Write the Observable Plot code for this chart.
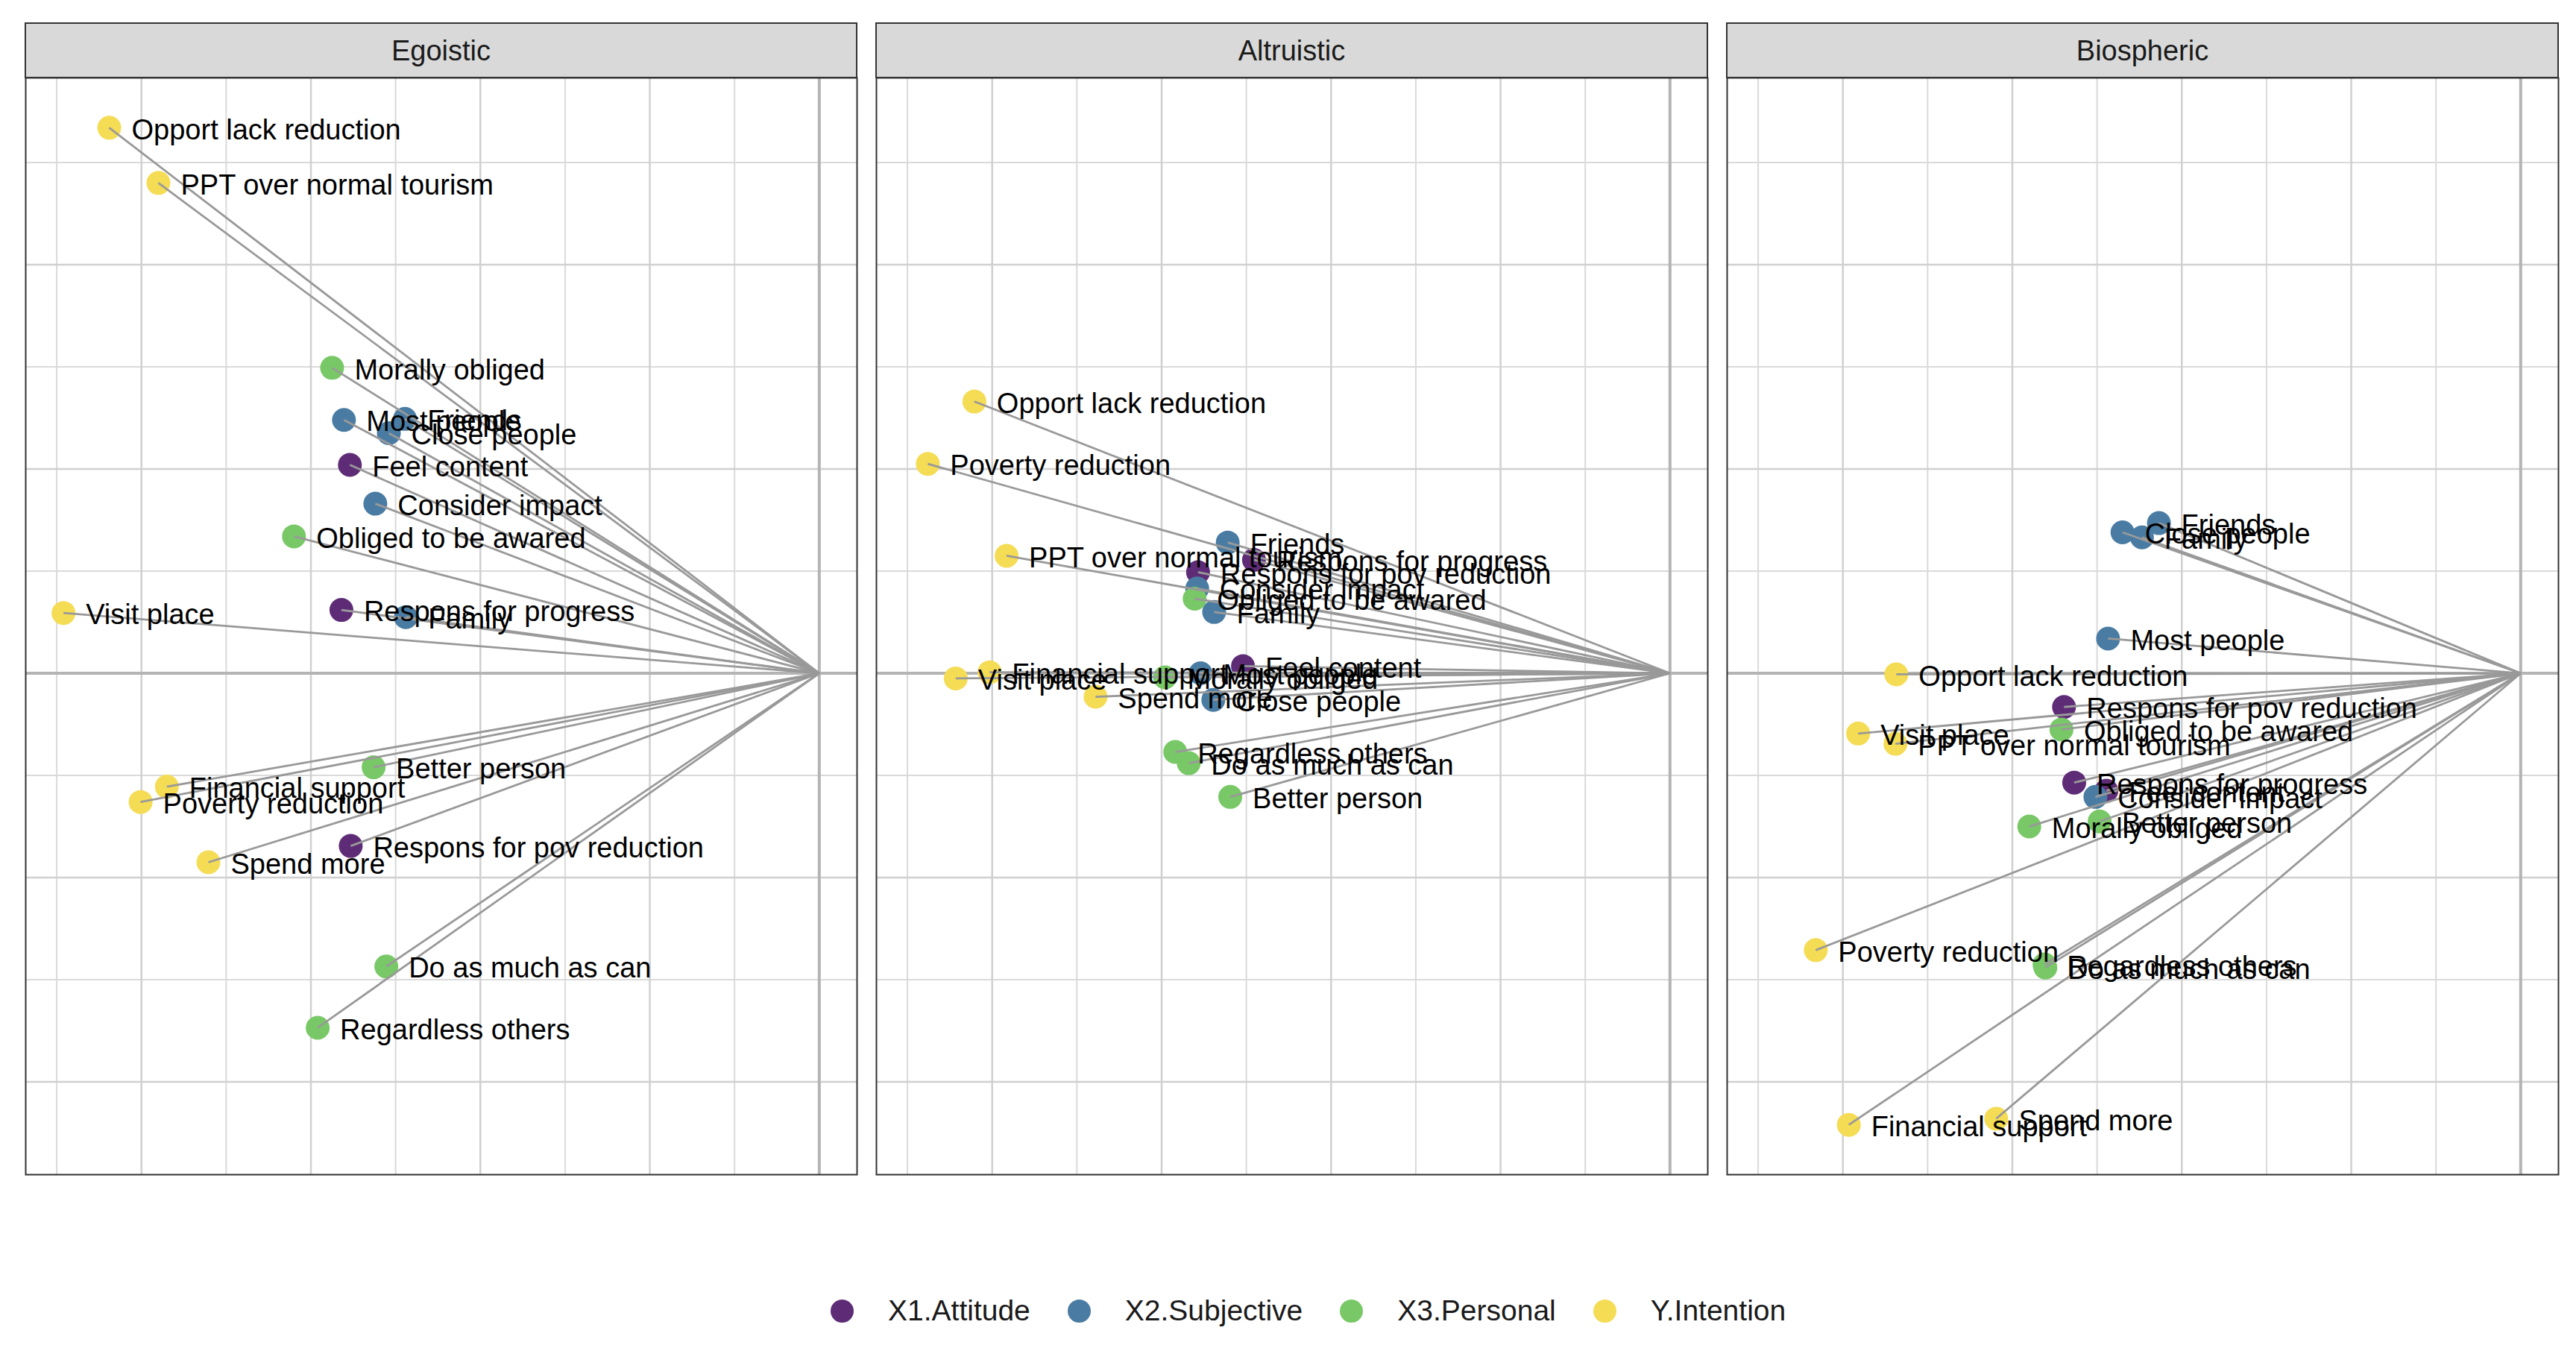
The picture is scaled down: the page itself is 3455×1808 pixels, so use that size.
<!DOCTYPE html>
<html>
<head>
<meta charset="utf-8">
<script src="https://cdn.jsdelivr.net/npm/d3@7"></script>
<script src="https://cdn.jsdelivr.net/npm/@observablehq/plot@0.6"></script>
<style>
  body { margin: 0; background: #ffffff; font-family: "Liberation Sans", Arial, sans-serif; }
  #legend { display: flex; align-items: center; height: 50px; margin-top: 93px; margin-left: 1114px; font-size: 39px; color: #1a1a1a; }
  .key { display: flex; align-items: center; margin-right: 50px; }
  .swatch { width: 31px; height: 31px; border-radius: 50%; margin-right: 46px; }
</style>
</head>
<body>
<div id="chart"></div>
<div id="legend"></div>
<script>
// Value domains shown as facets, and the construct each item belongs to
const panels = ["Egoistic", "Altruistic", "Biospheric"];
const groups = ["X1.Attitude", "X2.Subjective", "X3.Personal", "Y.Intention"];
const groupColors = ["#5e2c76", "#4a7ca3", "#79c867", "#f5dc55"];

const items = [
  "Feel content", "Respons for progress", "Respons for pov reduction",
  "Most people", "Friends", "Close people", "Family", "Consider impact",
  "Morally obliged", "Obliged to be awared", "Better person", "Do as much as can", "Regardless others",
  "Opport lack reduction", "PPT over normal tourism", "Visit place", "Financial support", "Poverty reduction", "Spend more"
];
const itemGroups = [
  "X1.Attitude", "X1.Attitude", "X1.Attitude",
  "X2.Subjective", "X2.Subjective", "X2.Subjective", "X2.Subjective", "X2.Subjective",
  "X3.Personal", "X3.Personal", "X3.Personal", "X3.Personal", "X3.Personal",
  "Y.Intention", "Y.Intention", "Y.Intention", "Y.Intention", "Y.Intention", "Y.Intention"
];

// Item coordinates per value domain (same order as items)
const egoisticX   = [-0.554, -0.564, -0.553, -0.561, -0.489, -0.508, -0.488, -0.524, -0.575, -0.620, -0.526, -0.511, -0.592, -0.838, -0.780, -0.892, -0.770, -0.801, -0.721];
const egoisticY   = [ 0.204,  0.062, -0.169,  0.248,  0.249,  0.235,  0.055,  0.166,  0.299,  0.134, -0.092, -0.287, -0.347,  0.534,  0.480,  0.059, -0.111, -0.126, -0.185];
const altruisticX = [-0.504, -0.491, -0.557, -0.554, -0.522, -0.539, -0.538, -0.558, -0.596, -0.561, -0.519, -0.568, -0.584, -0.821, -0.783, -0.843, -0.803, -0.876, -0.678];
const altruisticY = [ 0.007,  0.111,  0.099,  0.000,  0.128, -0.026,  0.060,  0.083, -0.004,  0.073, -0.121, -0.088, -0.077,  0.266,  0.115, -0.005,  0.001,  0.205, -0.023];
const biosphericX = [-0.489, -0.527, -0.539, -0.487, -0.427, -0.470, -0.447, -0.502, -0.580, -0.542, -0.497, -0.561, -0.562, -0.737, -0.738, -0.782, -0.793, -0.832, -0.619];
const biosphericY = [-0.115, -0.107, -0.033,  0.034,  0.147,  0.138,  0.133, -0.121, -0.150, -0.055, -0.145, -0.288, -0.285, -0.001, -0.069, -0.059, -0.442, -0.271, -0.436];

// Grid breaks
const majorX = [-0.8, -0.6, -0.4, -0.2, 0];
const minorX = [-0.9, -0.7, -0.5, -0.3, -0.1];
const majorY = [-0.4, -0.2, 0, 0.2, 0.4];
const minorY = [-0.3, -0.1, 0.1, 0.3, 0.5];

const xs = [egoisticX, altruisticX, biosphericX];
const ys = [egoisticY, altruisticY, biosphericY];

const rows = panels.flatMap((panel, p) =>
  items.map((item, i) => ({panel, item, group: itemGroups[i], x: xs[p][i], y: ys[p][i]}))
);

// Scale limits: data range (including the origin) expanded by 5% on each side
function expand(values) {
  const [lo, hi] = d3.extent(values.concat([0]));
  const pad = (hi - lo) * 0.05;
  return [lo - pad, hi + pad];
}
const xDomain = expand(rows.map(d => d.x));
const yDomain = expand(rows.map(d => d.y));

const font = '"Liberation Sans", Arial, sans-serif';
const stripTop = 31;

const chart = Plot.plot({
  width: 3455,
  height: 1640,
  marginTop: 104,
  marginBottom: 65,
  marginLeft: 33,
  marginRight: 23,
  x: {domain: xDomain, axis: null},
  y: {domain: yDomain, axis: null},
  fx: {domain: panels, padding: 0.0228, paddingInner: 0.0228, paddingOuter: 0, axis: null},
  color: {domain: groups, range: groupColors},
  facet: {data: rows, x: "panel"},
  style: {fontFamily: font, background: "#ffffff", overflow: "visible"},
  marks: [
    Plot.ruleX(minorX, {stroke: "#dadada", strokeWidth: 2}),
    Plot.ruleY(minorY, {stroke: "#dadada", strokeWidth: 2}),
    Plot.ruleX(majorX, {stroke: "#d0d0d0", strokeWidth: 2.5}),
    Plot.ruleY(majorY, {stroke: "#d0d0d0", strokeWidth: 2.5}),
    Plot.ruleX([0], {stroke: "#b4b4b4", strokeWidth: 4}),
    Plot.ruleY([0], {stroke: "#b4b4b4", strokeWidth: 4}),
    Plot.dot(rows, {x: "x", y: "y", fill: "group", r: 16}),
    Plot.link(rows, {x1: () => 0, y1: () => 0, x2: "x", y2: "y", stroke: "#999999", strokeWidth: 2.8}),
    Plot.text(rows, {x: "x", y: "y", text: "item", textAnchor: "start", dx: 30, dy: 3, fontSize: 38, fill: "#000000"}),
    Plot.frame({stroke: "#333333", strokeWidth: 2})
  ]
});

// Facet strips above each panel
const fx = chart.scale("fx");
const svg = d3.select(chart);
panels.forEach(p => {
  const x0 = fx.apply(p);
  const w = fx.bandwidth;
  const g = svg.append("g");
  g.append("rect")
    .attr("x", x0).attr("y", stripTop)
    .attr("width", w).attr("height", 104 - stripTop)
    .attr("fill", "#d9d9d9").attr("stroke", "#333333").attr("stroke-width", 2);
  g.append("text")
    .attr("x", x0 + w / 2).attr("y", (stripTop + 104) / 2)
    .attr("text-anchor", "middle").attr("dominant-baseline", "central")
    .attr("font-family", font).attr("font-size", 38).attr("fill", "#1a1a1a")
    .text(p);
});

document.getElementById("chart").appendChild(chart);

// Legend
const legend = d3.select("#legend");
groups.forEach((g, i) => {
  const key = legend.append("div").attr("class", "key");
  key.append("div").attr("class", "swatch").style("background", groupColors[i]);
  key.append("span").text(g);
});
</script>
</body>
</html>
